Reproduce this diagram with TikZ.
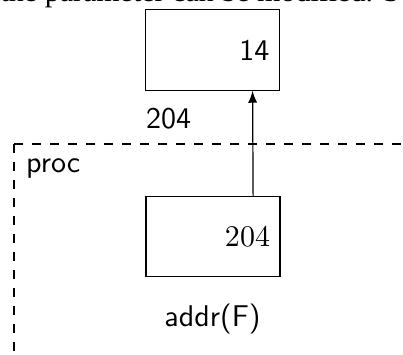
\documentclass[tikz,border=0pt]{standalone}
\usepackage{fontspec}
\newfontfamily\timesfont{Liberation Serif}

\begin{document}
\begin{tikzpicture}[font=\sffamily,
	cell/.style={draw, minimum width=1.57cm, minimum height=0.94cm},
	val/.style={anchor=east}]
	\def\a{0.47}	%shift of arrow from centre of cell
	
	\useasboundingbox (0,0) rectangle (4.721,-4.147);
	
	%LINE OF TEXT ABOVE
	\node[anchor=base west, inner sep=0, font=\timesfont] (txt) at (0,-0.02) {the parameter can be modified. So};
	
	%CELLS
	\node[cell] (high) at (2.489,-0.586) {};
	\node[val] (highval) at (high.east) {14};
	\node[cell] (low) at (2.495,-2.771) {};
	\node[val, font=\rmfamily] (lowval) at (low.east) {204};
	\draw[-latex] ([xshift=\a cm]low.north)--([xshift=\a cm]high.south);
	
	%FRAME
	\coordinate (corner) at (0.164,-1.687);
	\draw[dashed] (corner)--++(6,0);
	\draw[dashed] (corner)--++(0,-6);
	
	%LABELS
	\node[anchor=base west, inner sep=0] (ptr)  at (1.705,-1.503) {204};
	\node[anchor=base west, inner sep=0] (proc) at (0.300,-2.020) {proc};
	\node[anchor=base] (addr) at (2.489,-3.827) {addr(F)};
\end{tikzpicture}
\end{document}
